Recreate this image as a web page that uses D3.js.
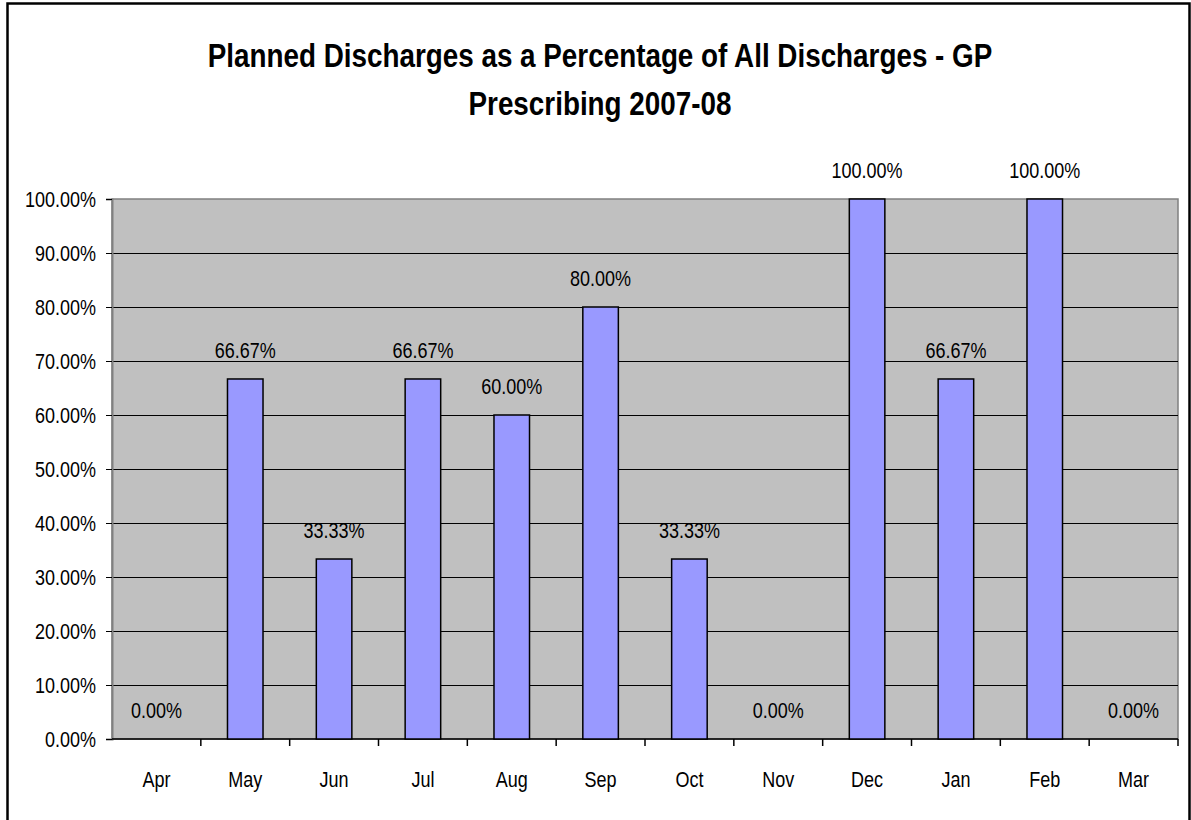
<!DOCTYPE html>
<html>
<head>
<meta charset="utf-8">
<script src="https://cdn.jsdelivr.net/npm/d3@7"></script>
<style>
  body { margin: 0; background: #fff; }
  svg text { font-family: "Liberation Sans Narrow", "Arial Narrow", "Liberation Sans", sans-serif; }
</style>
</head>
<body>
<svg id="chart"></svg>
<script>
const months = ["Apr", "May", "Jun", "Jul", "Aug", "Sep", "Oct", "Nov", "Dec", "Jan", "Feb", "Mar"];
const planned = [0, 66.67, 33.33, 66.67, 60, 80, 33.33, 0, 100, 66.67, 100, 0];
const yTicks = [0, 10, 20, 30, 40, 50, 60, 70, 80, 90, 100];
const titleLines = ["Planned Discharges as a Percentage of All Discharges - GP", "Prescribing 2007-08"];

const width = 1191;
const height = 820;
const margin = { top: 199, right: 13, bottom: 81, left: 112 };
const fontSize = 22.5;
const squeeze = 0.8; // no narrow font installed, so squeeze horizontally

// squeeze text horizontally around its own x position
function narrow(sel, s) {
  sel.each(function() {
    const t = d3.select(this);
    const x0 = +t.attr("x") || 0;
    t.attr("x", x0 / s).attr("transform", `scale(${s},1)`);
  });
}

const svg = d3.select("#chart")
  .attr("width", width)
  .attr("height", height);

// outer chart border
svg.append("rect")
  .attr("x", 7.5).attr("y", 3.5)
  .attr("width", 1182).attr("height", 830)
  .attr("fill", "#fff")
  .attr("stroke", "#000")
  .attr("stroke-width", 2.5);

const title = svg.append("g")
  .selectAll("text")
  .data(titleLines)
  .enter()
  .append("text")
  .attr("x", 600)
  .attr("y", (d, i) => 67 + i * 48)
  .attr("text-anchor", "middle")
  .attr("font-size", 33)
  .attr("font-weight", "bold")
  .text(d => d);
const titleScale = 785 / title.node().getComputedTextLength();
narrow(title, titleScale);

const x = d3.scaleBand()
  .domain(months)
  .range([margin.left, width - margin.right])
  .paddingInner(0.6)
  .paddingOuter(0.3);

const xEdge = d3.scaleBand()
  .domain(months)
  .range([margin.left, width - margin.right]);

const y = d3.scaleLinear()
  .domain([0, 100])
  .range([height - margin.bottom, margin.top]);

// plot area
svg.append("rect")
  .attr("x", margin.left)
  .attr("y", margin.top)
  .attr("width", width - margin.right - margin.left)
  .attr("height", y(0) - y(100))
  .attr("fill", "#c0c0c0")
  .attr("stroke", "#808080")
  .attr("stroke-width", 1.5);

// gridlines
svg.append("g")
  .selectAll("line")
  .data(yTicks.filter(d => d > 0 && d < 100))
  .enter()
  .append("line")
  .attr("x1", margin.left)
  .attr("x2", width - margin.right)
  .attr("y1", d => Math.round(y(d)) + 0.5)
  .attr("y2", d => Math.round(y(d)) + 0.5)
  .attr("stroke", "#000")
  .attr("stroke-width", 1);

// y axis
const yAxis = svg.append("g")
  .attr("transform", `translate(${margin.left},0)`)
  .call(d3.axisLeft(y).tickValues(yTicks).tickSize(6).tickPadding(10)
    .tickFormat(d => d.toFixed(2) + "%"));
yAxis.select(".domain").attr("stroke", "#808080").attr("stroke-width", 2);
yAxis.selectAll(".tick line").attr("stroke", "#000");
yAxis.selectAll("text").attr("font-size", fontSize).attr("fill", "#000")
  .attr("font-family", "'Liberation Sans Narrow', 'Arial Narrow', 'Liberation Sans', sans-serif");
narrow(yAxis.selectAll("text"), squeeze);

// x axis
const xAxis = svg.append("g")
  .attr("transform", `translate(0,${height - margin.bottom})`);
xAxis.append("line")
  .attr("x1", margin.left).attr("x2", width - margin.right)
  .attr("y1", 0).attr("y2", 0)
  .attr("stroke", "#000").attr("stroke-width", 1.5);
xAxis.selectAll(".tk")
  .data(months)
  .enter()
  .append("line")
  .attr("class", "tk")
  .attr("x1", d => xEdge(d) + xEdge.bandwidth())
  .attr("x2", d => xEdge(d) + xEdge.bandwidth())
  .attr("y1", 0).attr("y2", 7)
  .attr("stroke", "#000").attr("stroke-width", 1.5);
const xLabels = xAxis.selectAll("text")
  .data(months)
  .enter()
  .append("text")
  .attr("x", d => xEdge(d) + xEdge.bandwidth() / 2)
  .attr("y", 48)
  .attr("text-anchor", "middle")
  .attr("font-size", fontSize)
  .text(d => d);
narrow(xLabels, squeeze);

// bars
const data = months.map((m, i) => ({ month: m, value: planned[i] }));

svg.append("g")
  .selectAll("rect")
  .data(data.filter(d => d.value > 0))
  .enter()
  .append("rect")
  .attr("x", d => x(d.month))
  .attr("y", d => y(d.value))
  .attr("width", x.bandwidth())
  .attr("height", d => y(0) - y(d.value))
  .attr("fill", "#9999ff")
  .attr("stroke", "#000")
  .attr("stroke-width", 1.5);

const valueLabels = svg.append("g")
  .selectAll("text")
  .data(data)
  .enter()
  .append("text")
  .attr("x", d => x(d.month) + x.bandwidth() / 2)
  .attr("y", d => y(d.value) - 21)
  .attr("text-anchor", "middle")
  .attr("font-size", fontSize)
  .text(d => d.value.toFixed(2) + "%");
narrow(valueLabels, squeeze);
</script>
</body>
</html>
